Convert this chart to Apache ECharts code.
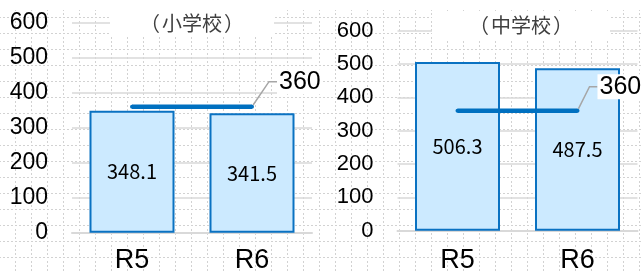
<!DOCTYPE html>
<html>
<head>
<meta charset="utf-8">
<script src="https://cdn.jsdelivr.net/npm/echarts@6/dist/echarts.min.js"></script>
<style>
    html, body { margin: 0; padding: 0; background: #fff; }
    #sheet {
        position: absolute; left: 0; top: 10px; width: 643px; height: 262px;
        background-image: url("data:image/svg+xml;utf8,<svg xmlns='http://www.w3.org/2000/svg' width='16' height='16'><g fill='%23d2d2d2'><rect x='0' y='0' width='2' height='1'/><rect x='4' y='0' width='2' height='1'/><rect x='8' y='0' width='2' height='1'/><rect x='12' y='0' width='2' height='1'/><rect x='0' y='4' width='1' height='2'/><rect x='0' y='8' width='1' height='2'/><rect x='0' y='12' width='1' height='2'/></g></svg>");
        background-position: 15px 7px;
    }
    #main { position: absolute; left: 0; top: 0; width: 643px; height: 272px; }
</style>
</head>
<body>
<div id="sheet"></div>
<div id="main"></div>
<script>
var categories = ['R5', 'R6'];
var elementaryValues = [348.1, 341.5];   // 小学校
var juniorValues = [506.3, 487.5];       // 中学校
var targetValues = [360, 360];
var panelTitles = ['（小学校）', '（中学校）'];
var yMin = 0, yMax = 600, yStep = 100;

var myChart = echarts.init(document.getElementById('main'), null, { renderer: 'canvas' });
var numFont = 'Liberation Sans, Arial, sans-serif';
var jpFont = 'Noto Sans CJK JP, sans-serif';

// 各パネルの配置
var panels = [
    { grid: { left: 72, width: 240, top: 22.7, height: 210, outerBoundsMode: 'none' }, yFont: 23, xMargin: 14, title: { left: 108, top: 9, padX: 30 }, labelShift: [18, -25], values: elementaryValues },
    { grid: { left: 397.5, width: 240, top: 30.7, height: 200, outerBoundsMode: 'none' }, yFont: 22, xMargin: 16, title: { left: 430, top: 11, padX: 37 }, labelShift: [13, -24], values: juniorValues }
];

var titleSize = 20;

var option = {
    animation: false,
    backgroundColor: 'transparent',
    title: [],
    grid: [],
    xAxis: [],
    yAxis: [],
    series: []
};

panels.forEach(function (p, i) {
    var t = panelTitles[i];
    option.title.push({
        // 括弧を全角幅で表示
        text: '{o|' + t.charAt(0) + '}{m|' + t.slice(1, -1) + '}{c|' + t.charAt(t.length - 1) + '}',
        left: p.title.left,
        top: p.title.top,
        padding: [4, p.title.padX],
        backgroundColor: '#fff',
        textStyle: {
            fontFamily: jpFont, fontSize: titleSize, fontWeight: 'normal', color: '#404040',
            rich: {
                o: { fontFamily: jpFont, fontSize: titleSize, color: '#404040', width: 24, align: 'right' },
                m: { fontFamily: jpFont, fontSize: titleSize, color: '#404040' },
                c: { fontFamily: jpFont, fontSize: titleSize, color: '#404040', width: 24, align: 'left' }
            }
        }
    });
    option.grid.push(p.grid);
    option.xAxis.push({
        type: 'category',
        gridIndex: i,
        data: categories,
        boundaryGap: true,
        axisTick: { show: false },
        axisLine: { show: true, lineStyle: { color: '#d9d9d9', width: 2 } },
        axisLabel: { fontFamily: numFont, fontSize: 27, color: '#000', margin: p.xMargin }
    });
    option.yAxis.push({
        type: 'value',
        gridIndex: i,
        min: yMin,
        max: yMax,
        interval: yStep,
        axisLine: { show: false },
        axisTick: { show: false },
        axisLabel: { fontFamily: numFont, fontSize: p.yFont, color: '#000', margin: 24 },
        splitLine: { lineStyle: { color: '#d9d9d9', width: 1.5 } }
    });
    option.series.push({
        type: 'bar',
        xAxisIndex: i,
        yAxisIndex: i,
        data: p.values,
        barWidth: 85,
        itemStyle: { color: '#cceaff', borderColor: '#0a72c2', borderWidth: 2 },
        label: {
            show: true,
            position: 'inside',
            fontFamily: jpFont,
            fontSize: 20,
            color: '#000'
        }
    });
    option.series.push({
        type: 'line',
        xAxisIndex: i,
        yAxisIndex: i,
        z: 5,
        data: targetValues.map(function (v, k) {
            return k === targetValues.length - 1 ? { value: v, label: { show: true } } : v;
        }),
        symbol: 'circle',
        symbolSize: 4,
        itemStyle: { color: '#0070c0' },
        lineStyle: { color: '#0070c0', width: 4.5 },
        label: {
            show: false,
            position: 'right',
            distance: 5,
            fontFamily: numFont,
            fontSize: 25,
            color: '#000',
            backgroundColor: '#fff',
            padding: [0, 2]
        },
        labelLayout: { dx: p.labelShift[0], dy: p.labelShift[1] },
        labelLine: { show: true, length2: 8, lineStyle: { color: '#a6a6a6', width: 1.5 } }
    });
});

myChart.setOption(option);
</script>
</body>
</html>
